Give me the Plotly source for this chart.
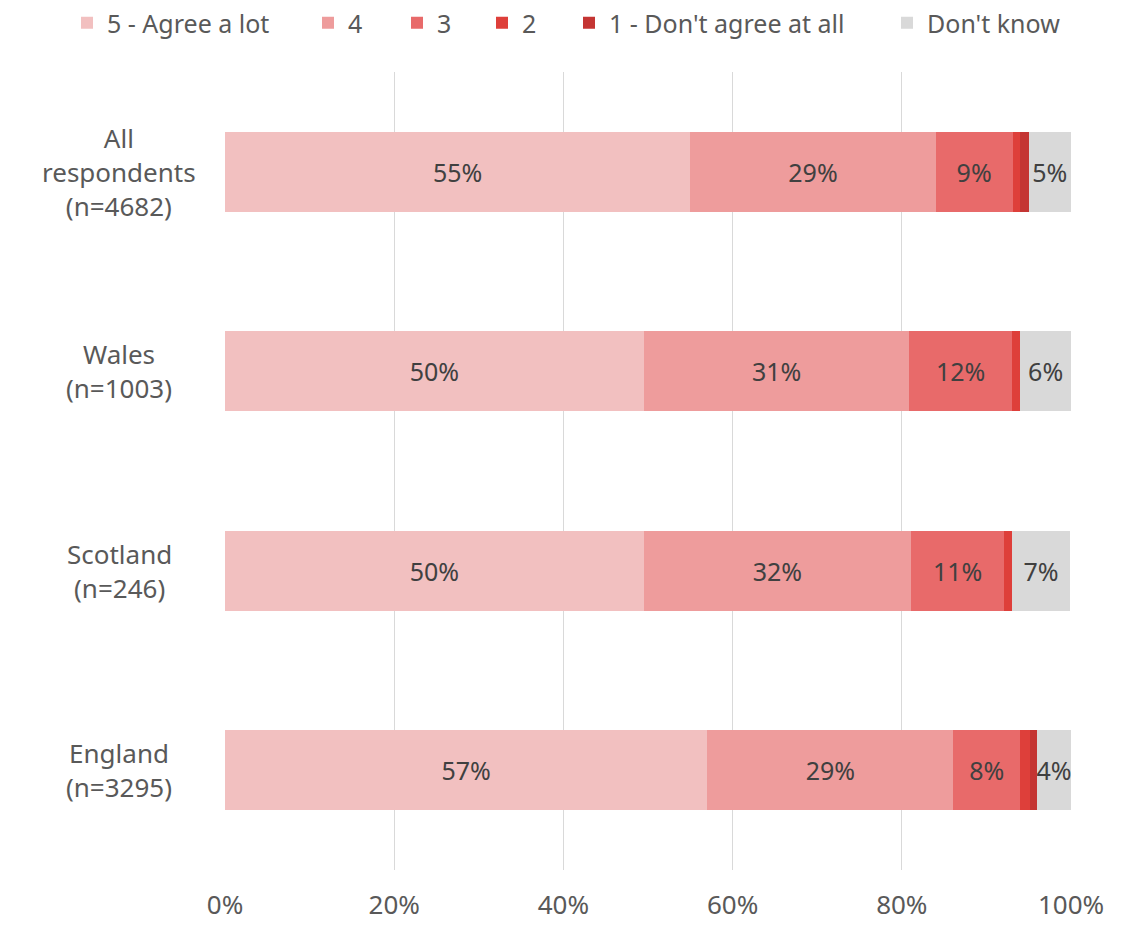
import plotly.graph_objects as go

# Categories (top to bottom)
groups = ["All<br>respondents<br>(n=4682)", "Wales<br>(n=1003)", "Scotland<br>(n=246)", "England<br>(n=3295)"]

# Shares per answer, in %
agree_5 = [55.0, 49.5, 49.5, 57.0]
agree_4 = [29.0, 31.4, 31.6, 29.1]
agree_3 = [9.1, 12.1, 11.0, 7.9]
agree_2 = [0.9, 1.0, 0.9, 1.1]
agree_1 = [1.0, 0.0, 0.0, 0.9]
dont_know = [5.0, 6.0, 6.9, 4.0]

series = [
    ("5 - Agree a lot", agree_5, "#F2C0C0"),
    ("4", agree_4, "#EE9C9C"),
    ("3", agree_3, "#E86A6A"),
    ("2", agree_2, "#DE3F3A"),
    ("1 - Don't agree at all", agree_1, "#C43533"),
    ("Don't know", dont_know, "#D9D9D9"),
]

# left edge (px) of each legend entry, so the spacing follows the original
legend_left = [59, 300, 389, 474, 561, 879]

font = "Noto Sans"
text_col = "#404040"

fig = go.Figure()
for i, (name, vals, col) in enumerate(series):
    labels = [f"{round(v)}%" if v >= 3 else "" for v in vals]
    fig.add_trace(go.Bar(
        name=name,
        y=groups,
        x=vals,
        orientation="h",
        marker=dict(color=col, line=dict(width=0)),
        text=labels,
        textposition="inside",
        insidetextanchor="middle",
        textangle=0,
        constraintext="none",
        textfont=dict(family=font, size=25, color=text_col),
        cliponaxis=False,
        hoverinfo="skip",
        legend="legend" if i == 0 else f"legend{i + 1}",
    ))

# one legend box per series
for i, xl in enumerate(legend_left):
    key = "legend" if i == 0 else f"legend{i + 1}"
    fig.update_layout({key: dict(
        orientation="h", x=xl / 1135, xanchor="left", xref="container",
        y=1.0614, yanchor="middle", yref="paper",
        font=dict(family=font, size=25, color="#595959"),
        bgcolor="rgba(0,0,0,0)", itemwidth=30,
    )})

# category labels as centred multi-line annotations
for g in groups:
    fig.add_annotation(
        x=-0.125, xref="paper", y=g, yref="y",
        text=g, showarrow=False, align="center", xanchor="center",
        font=dict(family=font, size=26, color="#595959"),
    )

fig.update_layout(
    barmode="stack",
    bargap=0.6,
    width=1135, height=925,
    margin=dict(l=217, r=72, t=64, b=63, autoexpand=False),
    plot_bgcolor="white",
    paper_bgcolor="white",
    showlegend=True,
)

fig.update_xaxes(
    range=[0, 100], dtick=20, ticksuffix="%",
    showgrid=True, gridcolor="#D9D9D9", gridwidth=1,
    zeroline=False, showline=False,
    tickfont=dict(family=font, size=26, color="#595959"),
    ticks="outside", ticklen=12, tickcolor="rgba(0,0,0,0)",
)
fig.update_yaxes(
    autorange="reversed", showticklabels=False, showgrid=False,
    categoryorder="array", categoryarray=groups,
)

fig.write_html("out.html")
